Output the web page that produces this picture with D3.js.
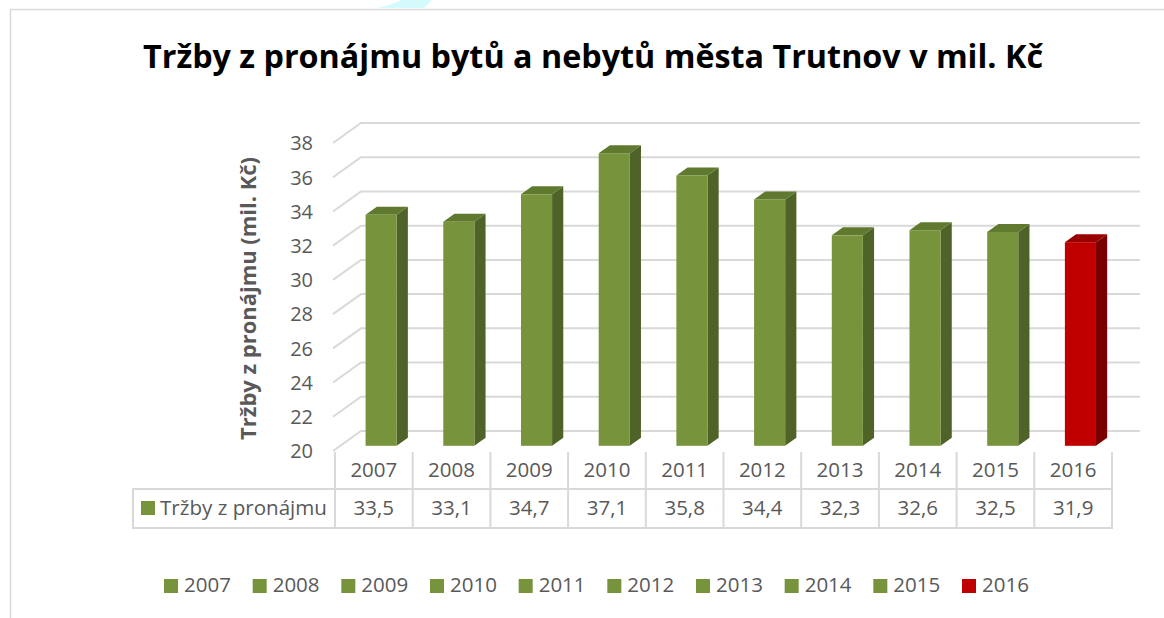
<!DOCTYPE html>
<html>
<head>
<meta charset="utf-8">
<script src="https://cdn.jsdelivr.net/npm/d3@7"></script>
<style>
  html, body { margin: 0; padding: 0; background: #fff; }
  svg { display: block; font-family: "Open Sans", sans-serif; }
</style>
</head>
<body>
<div id="chart"></div>
<script>
// Tržby z pronájmu bytů a nebytů – 3D column chart with data table
const years = ["2007", "2008", "2009", "2010", "2011", "2012", "2013", "2014", "2015", "2016"];
const revenue = [33.5, 33.1, 34.7, 37.1, 35.8, 34.4, 32.3, 32.6, 32.5, 31.9];
const yTicks = [20, 22, 24, 26, 28, 30, 32, 34, 36, 38];
const seriesName = "Tržby z pronájmu";
const highlightYear = "2016";

const width = 1164, height = 618;
const textColor = "#595959", gridColor = "#d9d9d9";
const depth = [28, -20];          // full depth of the 3D floor (dx, dy)
const barFront = 0.26, barBack = 0.66;

const svg = d3.select("#chart")
  .append("svg")
  .attr("width", width)
  .attr("height", height);

// chart area border (top + left only visible)
svg.append("path")
  .attr("d", "M10.5,618 L10.5,9.5 L1164,9.5")
  .attr("fill", "none")
  .attr("stroke", gridColor)
  .attr("stroke-width", 1.5);

// small cyan artifact at the top
svg.append("path")
  .attr("d", "M378,8 L392,4 L402,0 L432,0 L428,4 L424,8 Z")
  .attr("fill", "#d4fafc");

// Title (narrow like the original Calibri)
svg.append("text")
  .attr("x", 143)
  .attr("y", 68)
  .attr("font-weight", "bold")
  .attr("font-size", 32)
  .attr("textLength", 900)
  .attr("lengthAdjust", "spacingAndGlyphs")
  .attr("fill", "#000")
  .text("Tržby z pronájmu bytů a nebytů města Trutnov v mil. Kč");

// Scales
const x = d3.scaleBand().domain(years).range([335, 1112]);
const y = d3.scaleLinear().domain([20, 38]).range([451, 143]);

const colorFront = d => d === highlightYear ? "#c00000" : "#77933c";
const colorSide = d => d === highlightYear ? "#7a0000" : "#4f6228";
const colorTop = d => d === highlightYear ? "#990000" : "#5f7a2e";

// Gridlines: side wall diagonal + back wall line
const grid = svg.append("g").attr("stroke", gridColor).attr("stroke-width", 2).attr("fill", "none");
grid.selectAll("path")
  .data(yTicks)
  .join("path")
  .attr("d", d => {
    const x0 = x.range()[0] - 2, y0 = y(d);
    return `M${x0},${y0} L${x0 + depth[0]},${y0 + depth[1]} L${x.range()[1] + depth[0]},${y0 + depth[1]}`;
  });

// Tick labels
svg.append("g")
  .selectAll("text")
  .data(yTicks)
  .join("text")
  .attr("x", 313)
  .attr("y", d => y(d) + 2)
  .attr("text-anchor", "end")
  .attr("dominant-baseline", "middle")
  .attr("font-size", 20)
  .attr("fill", textColor)
  .text(d => d);

// Y axis title
svg.append("text")
  .attr("transform", "translate(256,440) rotate(-90)")
  .attr("font-weight", "bold")
  .attr("font-size", 21)
  .attr("textLength", 283)
  .attr("lengthAdjust", "spacingAndGlyphs")
  .attr("fill", textColor)
  .text("Tržby z pronájmu (mil. Kč)");

// 3D bars
const bw = x.bandwidth() * 0.4;
const bars = svg.append("g")
  .selectAll("g")
  .data(years.map((yr, i) => ({ year: yr, value: revenue[i] })))
  .join("g");

function pt(px, py, f) { return [px + depth[0] * f, py + depth[1] * f]; }

bars.each(function(d) {
  const g = d3.select(this);
  const x0 = x(d.year) + (x.bandwidth() - bw) / 2, x1 = x0 + bw;
  const yt = y(d.value), yb = y(20);
  const poly = pts => "M" + pts.map(p => p.join(",")).join("L") + "Z";
  // side
  g.append("path")
    .attr("d", poly([pt(x1, yt, barFront), pt(x1, yt, barBack), pt(x1, yb, barBack), pt(x1, yb, barFront)]))
    .attr("fill", colorSide(d.year));
  // top
  g.append("path")
    .attr("d", poly([pt(x0, yt, barFront), pt(x0, yt, barBack), pt(x1, yt, barBack), pt(x1, yt, barFront)]))
    .attr("fill", colorTop(d.year));
  // front
  const [fx, fy] = pt(x0, yt, barFront);
  g.append("rect")
    .attr("x", fx)
    .attr("y", fy)
    .attr("width", bw)
    .attr("height", yb - yt)
    .attr("fill", colorFront(d.year));
});

// Data table
const tTop = 452, tMid = 489, tBot = 528, tLeft = 133;
const table = svg.append("g").attr("stroke", gridColor).attr("stroke-width", 2).attr("fill", "none");
table.selectAll("line.v")
  .data(years.concat(["end"]))
  .join("line")
  .attr("x1", d => d === "end" ? x.range()[1] : x(d))
  .attr("x2", d => d === "end" ? x.range()[1] : x(d))
  .attr("y1", tTop)
  .attr("y2", tBot);
table.append("line").attr("x1", tLeft).attr("x2", tLeft).attr("y1", tMid).attr("y2", tBot);
table.append("line").attr("x1", tLeft - 1).attr("x2", x.range()[1] + 1).attr("y1", tMid).attr("y2", tMid);
table.append("line").attr("x1", tLeft - 1).attr("x2", x.range()[1] + 1).attr("y1", tBot).attr("y2", tBot);

svg.append("g")
  .selectAll("text")
  .data(years)
  .join("text")
  .attr("x", d => x(d) + x.bandwidth() / 2)
  .attr("y", (tTop + tMid) / 2 + 1)
  .attr("text-anchor", "middle")
  .attr("dominant-baseline", "middle")
  .attr("font-size", 20.5)
  .attr("fill", textColor)
  .text(d => d);

svg.append("g")
  .selectAll("text")
  .data(revenue)
  .join("text")
  .attr("x", (d, i) => x(years[i]) + x.bandwidth() / 2)
  .attr("y", (tMid + tBot) / 2 + 1)
  .attr("text-anchor", "middle")
  .attr("dominant-baseline", "middle")
  .attr("font-size", 20.5)
  .attr("fill", textColor)
  .text(d => d.toFixed(1).replace(".", ","));

svg.append("rect")
  .attr("x", 141).attr("y", 501).attr("width", 14).attr("height", 14)
  .attr("fill", "#77933c");
svg.append("text")
  .attr("x", 160)
  .attr("y", (tMid + tBot) / 2 + 1)
  .attr("dominant-baseline", "middle")
  .attr("font-size", 20.5)
  .attr("textLength", 167)
  .attr("lengthAdjust", "spacingAndGlyphs")
  .attr("fill", textColor)
  .text(seriesName);

// Legend
const legX = d3.scalePoint().domain(years).range([164, 962]);
const leg = svg.append("g")
  .selectAll("g")
  .data(years)
  .join("g")
  .attr("transform", d => `translate(${legX(d)},579)`);
leg.append("rect")
  .attr("width", 14).attr("height", 14)
  .attr("fill", d => colorFront(d));
leg.append("text")
  .attr("x", 20)
  .attr("y", 8)
  .attr("dominant-baseline", "middle")
  .attr("font-size", 20.5)
  .attr("fill", textColor)
  .text(d => d);
</script>
</body>
</html>
